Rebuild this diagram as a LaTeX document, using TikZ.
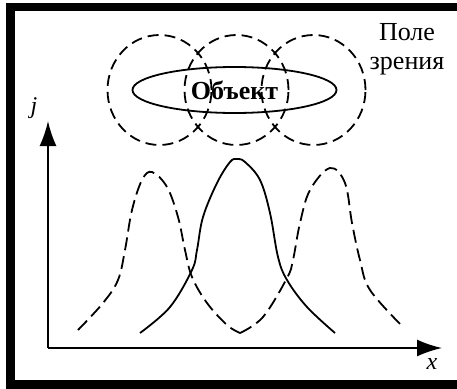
\documentclass[tikz,border=0pt]{standalone}
\usepackage{fontspec}
\setmainfont{Liberation Serif}
\usetikzlibrary{arrows.meta,shapes.geometric}

\begin{document}
\begin{tikzpicture}[x=1pt,y=-1pt,>={Latex[length=25pt,width=17pt]},line width=1.8pt,
    fov/.style={dash pattern=on 11pt off 6pt},
    curvedash/.style={dash pattern=on 13pt off 6pt},
    lbl/.style={font=\fontsize{26}{29}\selectfont,inner sep=0pt,align=center}]
    \clip (0,0) rectangle (457,388);
    \draw[line width=8.5pt] (10.5,7) rectangle (470,384.5);
    \node[draw,ellipse,minimum width=204pt,minimum height=46pt,inner sep=0pt,lbl] (obj) at (234.5,90) {\bfseries Объект};
    \draw[fov] (159.5,90) ellipse [x radius=52pt,y radius=55pt];
    \draw[fov] (236.5,90) ellipse [x radius=52pt,y radius=55pt];
    \draw[fov] (313.5,90) ellipse [x radius=52pt,y radius=55pt];
    \node[lbl,anchor=north] (fov) at (407,23) {Поле\\зрения};
    \coordinate (O) at (48,348);
    \coordinate (ytip) at (48,121);
    \coordinate (xtip) at (442,348);
    \draw[->] (O) -- (ytip);
    \draw[->] (O) -- (xtip);
    \node[lbl,font=\fontsize{24}{26}\selectfont\itshape] (jlab) at (34,108) {j};
    \node[lbl,font=\fontsize{24}{26}\selectfont\itshape] (xlab) at (432,364) {x};
    \draw[curvedash] plot[smooth,tension=0.6] coordinates {(78,330) (103,303) (118,280) (125,250) (132,210) (142,180) (152,172) (167,187) (178,217) (185,250) (192,277) (207,303) (227,325) (240,333)};
    \draw plot[smooth,tension=0.6] coordinates {(140,333) (170,307) (192,270) (197,250) (203,217) (217,183) (230,162) (237,159) (245,162) (260,180) (270,213) (278,257) (287,280) (307,307) (335,333)};
    \draw[curvedash] plot[smooth,tension=0.6] coordinates {(240,333) (263,317) (287,278) (293,260) (300,223) (310,190) (330,168) (345,183) (352,223) (360,260) (370,290) (403,327)};
  \end{tikzpicture}
\end{document}
